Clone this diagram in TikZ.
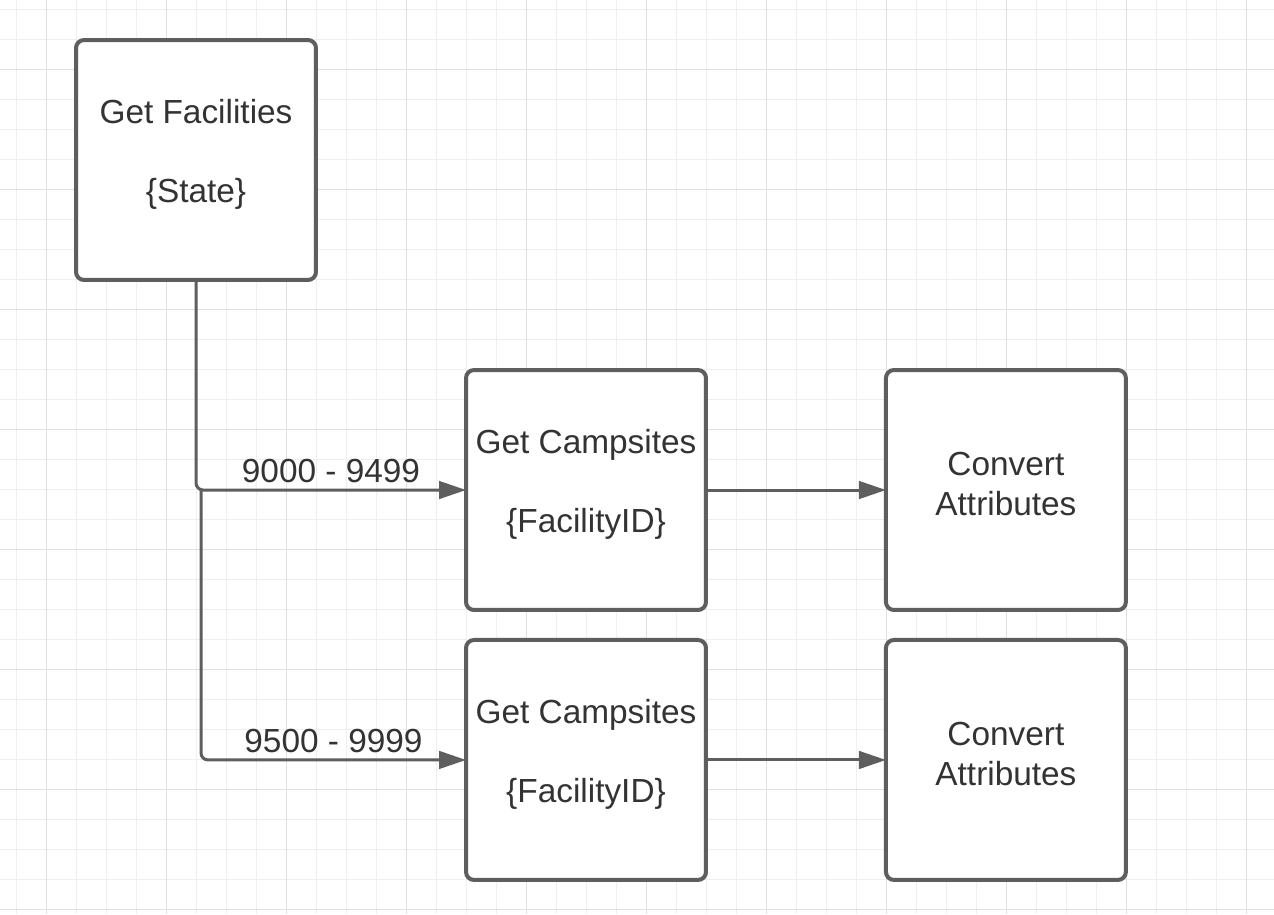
\documentclass[tikz,border=0pt]{standalone}
\usepackage{fontspec}
\setmainfont{Liberation Sans}
\usetikzlibrary{arrows.meta,positioning}
\definecolor{edgegray}{HTML}{5E5E5E}
\definecolor{textgray}{HTML}{333333}
\definecolor{gridminor}{HTML}{EFEFEF}
\definecolor{gridmajor}{HTML}{E0E0E0}

\begin{document}
\begin{tikzpicture}[
    x=0.02cm, y=-0.02cm,
    node distance=0.6cm and 3.6cm,
    taskbox/.style={rectangle, rounded corners=0.16cm, draw=edgegray, line width=0.08cm, fill=white, minimum width=4.8cm, minimum height=4.8cm, outer sep=0pt},
    boxtext/.style={font=\fontsize{19pt}{22.5pt}\selectfont, text=textgray, align=center, yshift=0.12cm},
    rangelabel/.style={font=\fontsize{19pt}{22.5pt}\selectfont, text=textgray, above, inner sep=0.12cm, pos=0.75},
    arrow/.style={-{Triangle[length=0.54cm, width=0.35cm]}, line width=0.06cm, draw=edgegray, rounded corners=0.14cm}
]

% === Canvas and background grid ===
\useasboundingbox[fill=white] (0,0) rectangle (1274,914);
\foreach \gx in {0,...,41} \draw[gridminor, line width=0.02cm] ({16.7+30*\gx},0) -- ({16.7+30*\gx},914);
\foreach \gy in {0,...,30} \draw[gridminor, line width=0.02cm] (0,{9.3+30*\gy}) -- (1274,{9.3+30*\gy});
\foreach \gx in {0,...,10} \draw[gridmajor, line width=0.02cm] ({46.7+120*\gx},0) -- ({46.7+120*\gx},914);
\foreach \gy in {0,...,7} \draw[gridmajor, line width=0.02cm] (0,{69.3+120*\gy}) -- (1274,{69.3+120*\gy});

% === Source step ===
\node[taskbox, label={[boxtext]center:Get Facilities\\[22.5pt]\{State\}}] (facilities) at (196,160) {};

% === Campsite lookups ===
\node[taskbox, label={[boxtext]center:Get Campsites\\[22.5pt]\{FacilityID\}}] (campsitesA) at (586,490) {};
\node[taskbox, below=of campsitesA, label={[boxtext]center:Get Campsites\\[22.5pt]\{FacilityID\}}] (campsitesB) {};

% === Conversion steps ===
\node[taskbox, right=of campsitesA, label={[boxtext]center:Convert\\Attributes}] (convertA) {};
\node[taskbox, right=of campsitesB, label={[boxtext]center:Convert\\Attributes}] (convertB) {};

% === Connectors ===
\coordinate (split) at (201,490);
\draw[arrow] (facilities.south) |- node[rangelabel] {9000 - 9499} (campsitesA.west);
\draw[arrow] (split) |- node[rangelabel] {9500 - 9999} (campsitesB.west);
\draw[arrow] (campsitesA.east) -- (convertA.west);
\draw[arrow] (campsitesB.east) -- (convertB.west);

\end{tikzpicture}
\end{document}
